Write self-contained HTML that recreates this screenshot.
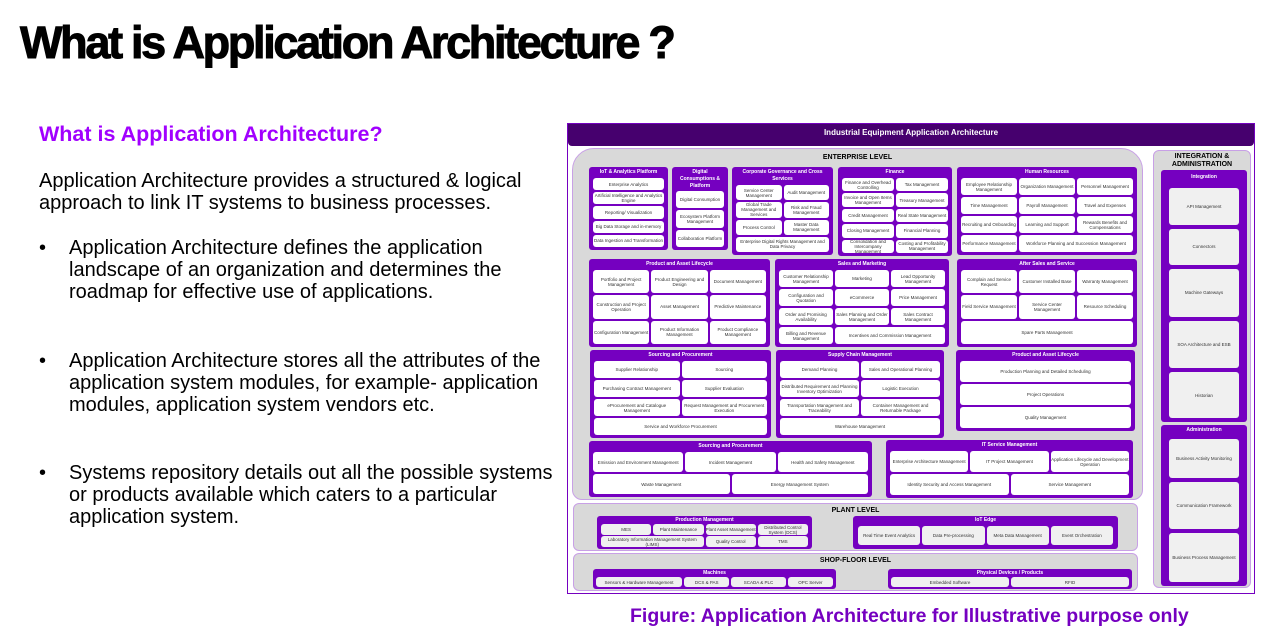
<!DOCTYPE html>
<html><head><meta charset="utf-8">
<style>
*{margin:0;padding:0;box-sizing:border-box}
body{width:1265px;height:641px;background:#fff;position:relative;overflow:hidden;font-family:"Liberation Sans",sans-serif}
.t{position:absolute;white-space:nowrap}
h1{position:absolute;left:20px;top:17px;font-size:45px;font-weight:bold;letter-spacing:-2.3px;color:#000;white-space:nowrap;transform:scaleX(1.0);transform-origin:left top;-webkit-text-stroke:1px #000}
.sub{left:39px;top:122px;font-size:21.5px;font-weight:bold;color:#a100ff}
.body{position:absolute;left:39px;font-size:20px;line-height:22px;color:#000;white-space:nowrap}
.bl{position:absolute;left:39px;font-size:20px;line-height:22px;color:#000;white-space:nowrap}
.bl span{position:absolute;left:0}
.bl div{margin-left:30px}
.cap{left:630px;top:605px;font-size:19.5px;font-weight:bold;color:#7500c0}
.frame{position:absolute;left:567px;top:123px;width:688px;height:471px;border:1px solid #7500c0;background:#fff}
.hdr{position:absolute;left:568px;top:124px;width:686px;height:22px;background:#46006e;border-radius:0 0 4px 4px;color:#fff;font-size:8px;font-weight:bold;text-align:center;line-height:18px}
.area{position:absolute;background:#d9d9d9;border:1px solid #c8a0e6}
.lvl{position:absolute;font-size:7px;font-weight:bold;color:#000;text-align:center}
.g{position:absolute;background:#7500c0;border-radius:3px;padding:2px 4px 3px;display:grid;gap:2px}
.g>.h{grid-column:1/-1;color:#fff;font-size:5px;font-weight:bold;text-align:center;line-height:7px}
.g>div:not(.h){background:#fff;border-radius:3px;font-size:4.5px;color:#333;display:flex;align-items:center;justify-content:center;text-align:center;line-height:5px;overflow:hidden}
.gg>div:not(.h){background:#f0f0f0}
</style></head><body>
<h1>What is Application Architecture ?</h1>
<div class="t sub">What is Application Architecture?</div>
<div class="body" style="top:170px">Application Architecture provides a structured &amp; logical<br>approach to link IT systems to business processes.</div>
<div class="bl" style="top:237px"><span>•</span><div>Application Architecture defines the application<br>landscape of an organization and determines the<br>roadmap for effective use of applications.</div></div>
<div class="bl" style="top:350px"><span>•</span><div>Application Architecture stores all the attributes of the<br>application system modules, for example- application<br>modules, application system vendors etc.</div></div>
<div class="bl" style="top:462px"><span>•</span><div>Systems repository details out all the possible systems<br>or products available which caters to a particular<br>application system.</div></div>
<div class="t cap">Figure: Application Architecture for Illustrative purpose only</div>

<div class="frame"></div>
<div class="hdr">Industrial Equipment Application Architecture</div>
<div class="area" style="left:572px;top:148px;width:571px;height:352px;border-radius:22px 22px 10px 10px"></div>
<div class="lvl" style="left:572px;top:154px;width:571px">ENTERPRISE LEVEL</div>
<div class="area" style="left:1153px;top:150px;width:98px;height:438px;border-radius:6px"></div>
<div class="lvl" style="left:1153px;top:153px;width:98px;line-height:8px">INTEGRATION &amp;<br>ADMINISTRATION</div>
<div class="area" style="left:573px;top:503px;width:565px;height:48px;border-radius:6px"></div>
<div class="lvl" style="left:573px;top:507px;width:565px">PLANT LEVEL</div>
<div class="area" style="left:573px;top:553px;width:565px;height:38px;border-radius:6px"></div>
<div class="lvl" style="left:573px;top:557px;width:565px">SHOP-FLOOR LEVEL</div>

<div class="g" style="left:589px;top:167px;width:79px;height:83px;grid-template-rows:7px repeat(5,1fr)"><div class="h">IoT &amp; Analytics Platform</div><div>Enterprise Analytics</div><div>Artificial Intelligence and Analytics Engine</div><div>Reporting/ Visualization</div><div>Big Data Storage and in-memory</div><div>Data Ingestion and Transformation</div></div>
<div class="g" style="left:672px;top:167px;width:56px;height:83px;grid-template-rows:20px repeat(3,1fr)"><div class="h">Digital Consumptions &amp; Platform</div><div>Digital Consumption</div><div>Ecosystem Platform Management</div><div>Collaboration Platform</div></div>
<div class="g" style="left:732px;top:167px;width:101px;height:88px;grid-template-columns:1fr 1fr;grid-template-rows:14px repeat(4,1fr)"><div class="h">Corporate Governance and Cross Services</div><div>Service Center Management</div><div>Audit Management</div><div>Global Trade Management and Services</div><div>Risk and Fraud Management</div><div>Process Control</div><div>Master Data Management</div><div style="grid-column:1/-1">Enterprise Digital Rights Management and Data Privacy</div></div>
<div class="g" style="left:838px;top:167px;width:114px;height:89px;grid-template-columns:1fr 1fr;grid-template-rows:7px repeat(5,1fr)"><div class="h">Finance</div><div>Finance and Overhead Controlling</div><div>Tax Management</div><div>Invoice and Open Items Management</div><div>Treasury Management</div><div>Credit Management</div><div>Real State Management</div><div>Closing Management</div><div>Financial Planning</div><div>Consolidation and Intercompany Management</div><div>Costing and Profitability Management</div></div>
<div class="g" style="left:957px;top:167px;width:180px;height:88px;grid-template-columns:1fr 1fr 1fr;grid-template-rows:7px repeat(4,1fr)"><div class="h">Human Resources</div><div>Employee Relationship Management</div><div>Organization Management</div><div>Personnel Management</div><div>Time Management</div><div>Payroll Management</div><div>Travel and Expenses</div><div>Recruiting and Onboarding</div><div>Learning and Support</div><div>Rewards Benefits and Compensations</div><div>Performance Management</div><div style="grid-column:2/4">Workforce Planning and Succession Management</div></div>

<div class="g" style="left:589px;top:259px;width:181px;height:88px;grid-template-columns:1fr 1fr 1fr;grid-template-rows:7px repeat(3,1fr)"><div class="h">Product and Asset Lifecycle</div><div>Portfolio and Project Management</div><div>Product Engineering and Design</div><div>Document Management</div><div>Construction and Project Operation</div><div>Asset Management</div><div>Predictive Maintenance</div><div>Configuration Management</div><div>Product Information Management</div><div>Product Compliance Management</div></div>
<div class="g" style="left:775px;top:259px;width:174px;height:88px;grid-template-columns:1fr 1fr 1fr;grid-template-rows:7px repeat(4,1fr)"><div class="h">Sales and Marketing</div><div>Customer Relationship Management</div><div>Marketing</div><div>Lead Opportunity Management</div><div>Configuration and Quotation</div><div>eCommerce</div><div>Price Management</div><div>Order and Promising Availability</div><div>Sales Planning and Order Management</div><div>Sales Contract Management</div><div>Billing and Revenue Management</div><div style="grid-column:2/4">Incentives and Commission Management</div></div>
<div class="g" style="left:957px;top:259px;width:180px;height:88px;grid-template-columns:1fr 1fr 1fr;grid-template-rows:7px repeat(3,1fr)"><div class="h">After Sales and Service</div><div>Complain and Service Request</div><div>Customer Installed Base</div><div>Warranty Management</div><div>Field Service Management</div><div>Service Center Management</div><div>Resource Scheduling</div><div style="grid-column:1/-1">Spare Parts Management</div></div>

<div class="g" style="left:590px;top:350px;width:181px;height:88px;grid-template-columns:1fr 1fr;grid-template-rows:7px repeat(4,1fr)"><div class="h">Sourcing and Procurement</div><div>Supplier Relationship</div><div>Sourcing</div><div>Purchasing Contract Management</div><div>Supplier Evaluation</div><div>eProcurement and Catalogue Management</div><div>Request Management and Procurement Execution</div><div style="grid-column:1/-1">Service and Workforce Procurement</div></div>
<div class="g" style="left:776px;top:350px;width:168px;height:88px;grid-template-columns:1fr 1fr;grid-template-rows:7px repeat(4,1fr)"><div class="h">Supply Chain Management</div><div>Demand Planning</div><div>Sales and Operational Planning</div><div>Distributed Requirement and Planning Inventory Optimization</div><div>Logistic Execution</div><div>Transportation Management and Traceability</div><div>Container Management and Returnable Package</div><div style="grid-column:1/-1">Warehouse Management</div></div>
<div class="g" style="left:956px;top:350px;width:179px;height:81px;grid-template-rows:7px repeat(3,1fr)"><div class="h">Product and Asset Lifecycle</div><div>Production Planning and Detailed Scheduling</div><div>Project Operations</div><div>Quality Management</div></div>

<div class="g" style="left:589px;top:441px;width:283px;height:56px;grid-template-columns:repeat(6,1fr);grid-template-rows:7px 1fr 1fr"><div class="h">Sourcing and Procurement</div><div style="grid-column:span 2">Emission and Environment Management</div><div style="grid-column:span 2">Incident Management</div><div style="grid-column:span 2">Health and Safety Management</div><div style="grid-column:span 3">Waste Management</div><div style="grid-column:span 3">Energy Management System</div></div>
<div class="g" style="left:886px;top:440px;width:247px;height:58px;grid-template-columns:repeat(6,1fr);grid-template-rows:7px 1fr 1fr"><div class="h">IT Service Management</div><div style="grid-column:span 2">Enterprise Architecture Management</div><div style="grid-column:span 2">IT Project Management</div><div style="grid-column:span 2">Application Lifecycle and Development Operation</div><div style="grid-column:span 3">Identity Security and Access Management</div><div style="grid-column:span 3">Service Management</div></div>

<div class="g gg" style="left:1161px;top:170px;width:86px;height:252px;padding:4px 8px 4px;gap:4px;grid-template-rows:10px 1fr 1fr 1.3fr 1.3fr 1.25fr"><div class="h">Integration</div><div>API Management</div><div>Connectors</div><div>Machine Gateways</div><div>SOA Architecture and ESB</div><div>Historian</div></div>
<div class="g gg" style="left:1161px;top:425px;width:86px;height:161px;padding:2px 8px 4px;gap:4px;grid-template-rows:8px 1fr 1.2fr 1.25fr"><div class="h">Administration</div><div>Business Activity Monitoring</div><div>Communication Framework</div><div>Business Process Management</div></div>

<div class="g gg" style="left:597px;top:516px;width:215px;height:33px;padding:1px 4px 2px;gap:1px 2px;grid-template-columns:repeat(4,1fr);grid-template-rows:6px 1fr 1fr"><div class="h">Production Management</div><div>MES</div><div>Plant Maintenance</div><div>Plant Asset Management</div><div>Distributed Control System (DCS)</div><div style="grid-column:span 2">Laboratory Information Management System (LIMS)</div><div>Quality Control</div><div>TMS</div></div>
<div class="g gg" style="left:853px;top:516px;width:265px;height:33px;padding:1px 5px 4px;grid-template-columns:repeat(4,1fr);grid-template-rows:7px 1fr"><div class="h">IoT Edge</div><div>Real Time Event Analytics</div><div>Data Pre-processing</div><div>Meta Data Management</div><div>Event Orchestration</div></div>

<div class="g gg" style="left:593px;top:569px;width:243px;height:20px;padding:1px 3px 2px;gap:1px 2px;grid-template-columns:1.9fr 1fr 1.2fr 1fr;grid-template-rows:6px 1fr"><div class="h">Machines</div><div>Sensors &amp; Hardware Management</div><div>DCS &amp; PAS</div><div>SCADA &amp; PLC</div><div>OPC Server</div></div>
<div class="g gg" style="left:888px;top:569px;width:244px;height:20px;padding:1px 3px 2px;gap:1px 2px;grid-template-columns:1fr 1fr;grid-template-rows:6px 1fr"><div class="h">Physical Devices / Products</div><div>Embedded Software</div><div>RFID</div></div>
</body></html>
